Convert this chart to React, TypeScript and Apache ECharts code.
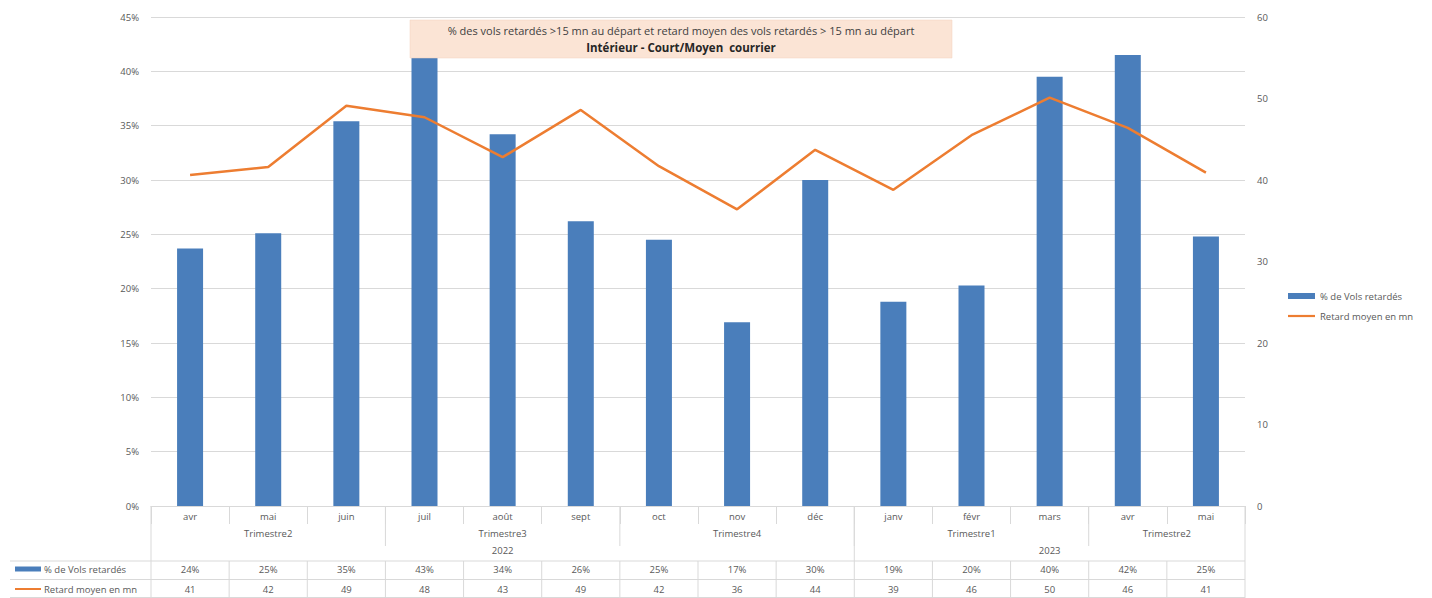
import React, { useEffect, useRef } from "react";
import * as echarts from "echarts";

const months = ["avr", "mai", "juin", "juil", "août", "sept", "oct", "nov", "déc", "janv", "févr", "mars", "avr", "mai"];
const pctDelayed = [23.7, 25.1, 35.4, 43.0, 34.2, 26.2, 24.5, 16.9, 30.0, 18.8, 20.3, 39.5, 41.5, 24.8];
const avgDelay = [40.6, 41.6, 49.1, 47.7, 42.8, 48.6, 41.7, 36.4, 43.7, 38.8, 45.5, 50.1, 46.4, 40.9];
const quarterLabels = ["Trimestre2", "Trimestre3", "Trimestre4", "Trimestre1", "Trimestre2"];
const quarterSpans = [3, 3, 3, 3, 2];
const yearLabels = ["2022", "2023"];
const yearSpans = [9, 5];
const seriesNames = ["% de Vols retardés", "Retard moyen en mn"];
const titleLine1 = "% des vols retardés >15 mn au départ et retard moyen des vols retardés > 15 mn au départ";
const titleLine2 = "Intérieur - Court/Moyen  courrier";

const BLUE = "#4a7ebb";
const ORANGE = "#ed7d31";
const GRID = "#d9d9d9";
const TXT = "#595959";
const FONT = "Open Sans";

export default function App() {
  const ref = useRef<HTMLDivElement>(null);
  useEffect(() => {
    if (!ref.current) return;
    const chart = echarts.init(ref.current, null, { renderer: "svg" });
    chart.setOption({
      animation: false,
      textStyle: { fontFamily: FONT },
      grid: { left: 151, right: 187, top: 17, bottom: 92 },
      legend: {
        orient: "vertical",
        left: 1283,
        top: 286,
        itemWidth: 27,
        itemHeight: 6,
        itemGap: 10,
        textStyle: { fontSize: 9.5, color: TXT, fontFamily: FONT },
        data: [
          { name: seriesNames[0], icon: "rect" },
          { name: seriesNames[1], icon: "path://M0,0h27v2.2h-27z" },
        ],
      },
      xAxis: {
        type: "category",
        data: months,
        axisLine: { lineStyle: { color: GRID } },
        axisTick: { show: true, interval: 0, length: 18, lineStyle: { color: GRID } },
        axisLabel: { interval: 0, fontSize: 9.5, color: TXT, margin: 5, fontFamily: FONT },
      },
      yAxis: [
        {
          type: "value",
          min: 0,
          max: 45,
          interval: 5,
          axisLabel: { formatter: "{value}%", fontSize: 9.5, color: TXT, margin: 12, fontFamily: FONT },
          axisLine: { show: false },
          axisTick: { show: false },
          splitLine: { lineStyle: { color: GRID } },
        },
        {
          type: "value",
          min: 0,
          max: 60,
          interval: 10,
          axisLabel: { fontSize: 9.5, color: TXT, margin: 12, fontFamily: FONT },
          axisLine: { show: false },
          axisTick: { show: false },
          splitLine: { show: false },
        },
      ],
      series: [
        {
          name: seriesNames[0],
          type: "bar",
          data: pctDelayed,
          barWidth: 26,
          itemStyle: { color: BLUE },
          yAxisIndex: 0,
          z: 2,
        },
        {
          name: seriesNames[1],
          type: "line",
          data: avgDelay,
          yAxisIndex: 1,
          symbol: "none",
          lineStyle: { color: ORANGE, width: 2.5 },
          itemStyle: { color: ORANGE },
          z: 3,
        },
      ],
    });

    const cx = (i: number) => chart.convertToPixel({ xAxisIndex: 0 }, i) as number;
    const step = cx(1) - cx(0);
    const bx = (i: number) => cx(0) - step / 2 + i * step;
    const y0 = chart.convertToPixel({ yAxisIndex: 0 }, 0) as number;
    const yQ = y0 + 27;
    const yY = y0 + 44;
    const yR1 = y0 + 63;
    const yR2 = y0 + 83;
    const yEnd = y0 + 92;
    const rowTop = y0 + 55;
    const rowMid = y0 + 73.5;
    const n = months.length;
    const g: any[] = [];
    const line = (x1: number, y1: number, x2: number, y2: number) =>
      g.push({ type: "line", shape: { x1, y1, x2, y2 }, style: { stroke: GRID, lineWidth: 1 }, silent: true });
    const text = (x: number, y: number, s: string, opts: any = {}) =>
      g.push({
        type: "text",
        x,
        y,
        style: { text: s, fill: TXT, font: `9.5px "${FONT}"`, align: "center", verticalAlign: "middle", ...opts },
        silent: true,
      });

    // outer vertical edges
    line(bx(0), y0, bx(0), yEnd);
    line(bx(n), y0, bx(n), yEnd);
    // quarter separators
    let acc = 0;
    quarterSpans.forEach((span, k) => {
      text(bx(acc + span / 2), yQ, quarterLabels[k]);
      acc += span;
      if (acc < n) line(bx(acc), y0, bx(acc), y0 + 40);
    });
    acc = 0;
    yearSpans.forEach((span, k) => {
      text(bx(acc + span / 2), yY, yearLabels[k]);
      acc += span;
      if (acc < n) line(bx(acc), y0, bx(acc), rowTop);
    });
    // data rows
    line(10, rowTop, bx(n), rowTop);
    line(10, rowMid, bx(n), rowMid);
    line(10, yEnd - 0.5, bx(n), yEnd - 0.5);
    for (let i = 1; i < n; i++) line(bx(i), rowTop, bx(i), yEnd);
    pctDelayed.forEach((v, i) => text(cx(i), yR1, `${Math.round(v)}%`));
    avgDelay.forEach((v, i) => text(cx(i), yR2, `${Math.round(v)}`));
    // row headers with legend keys
    g.push({ type: "rect", shape: { x: 15, y: yR1 - 2.5, width: 26, height: 5 }, style: { fill: BLUE }, silent: true });
    text(44, yR1, seriesNames[0], { align: "left" });
    g.push({ type: "line", shape: { x1: 15, y1: yR2, x2: 41, y2: yR2 }, style: { stroke: ORANGE, lineWidth: 2 }, silent: true });
    text(44, yR2, seriesNames[1], { align: "left" });

    // title box (drawn above the bars)
    g.push({ type: "rect", z: 100, shape: { x: 410, y: 20, width: 542, height: 38 }, style: { fill: "#fbe4d5", stroke: "#f3d3bf", lineWidth: 0.5 } });
    g.push({ type: "text", z: 101, x: 681, y: 30, style: { text: titleLine1, fill: "#404040", font: `11px "${FONT}"`, align: "center", verticalAlign: "middle" } });
    g.push({ type: "text", z: 101, x: 681, y: 47, style: { text: titleLine2, fill: "#262626", font: `bold 11.5px "${FONT}"`, align: "center", verticalAlign: "middle" } });

    chart.setOption({ graphic: { elements: g } });
    return () => chart.dispose();
  }, []);
  return <div ref={ref} style={{ position: "fixed", left: 0, top: 0, width: 1432, height: 598, background: "#fff" }} />;
}
